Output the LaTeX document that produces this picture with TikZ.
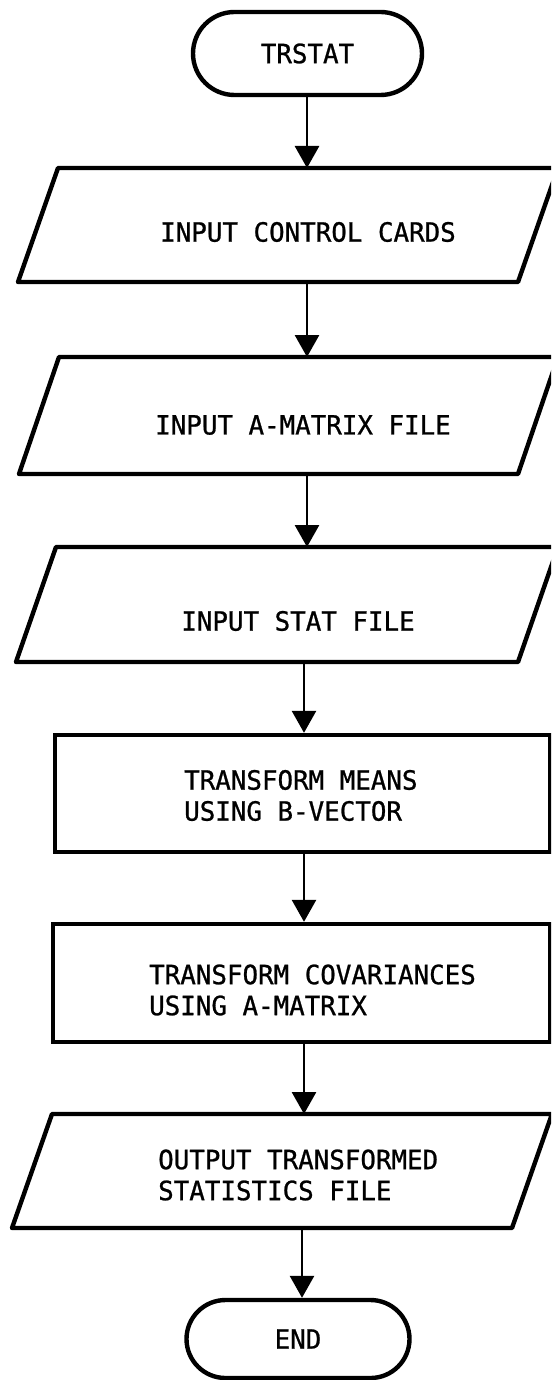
\documentclass[tikz,border=0pt]{standalone}
\usepackage{fontspec}
\newfontfamily\typefont[FakeStretch=0.975,FakeBold=0.9]{DejaVu Sans Mono}
\usetikzlibrary{arrows.meta,shapes.misc,calc}
\newcommand\drawpara[1]{\draw[shapeline] ($(#1.south west)+(-20,0)$) -- ($(#1.north west)+(20,0)$) -- ($(#1.north east)+(20,0)$) -- ($(#1.south east)+(-20,0)$) -- cycle;}
\begin{document}
\begin{tikzpicture}[x=1pt,y=-1pt,
  shapeline/.style={line width=4.4pt, line join=round},
  txt/.style={font=\typefont\fontsize{26.5}{31}\selectfont, inner sep=0pt, text=black},
  term/.style={rounded rectangle, draw, line width=4.4pt, inner sep=0pt, txt},
  frame/.style={draw=none, inner sep=0pt, outer sep=0pt},
  procbox/.style={draw, line width=4.4pt, inner sep=0pt},
  mtxt/.style={txt, align=left, anchor=west},
  arr/.style={line width=2.8pt, -{Triangle[length=22pt,width=24pt]}}
]
\useasboundingbox (0,0) rectangle (551,1380);
\clip (0,0) rectangle (551,1380);
\fill[white] (0,0) rectangle (551,1380);

% terminals
\node[term, minimum width=229pt, minimum height=83pt] (t1) at (307.5,53.5) {TRSTAT};
\node[term, minimum width=223pt, minimum height=78pt] (e1) at (298,1339) {END};

% input/output parallelograms
\node[frame, minimum width=500pt, minimum height=114pt] (p1) at (288,225) {};
\node[frame, minimum width=499pt, minimum height=117pt] (p2) at (288.5,415.5) {};
\node[frame, minimum width=502pt, minimum height=115pt] (p3) at (287,604.5) {};
\node[frame, minimum width=500pt, minimum height=114pt] (p4) at (282,1171) {};
\drawpara{p1}
\drawpara{p2}
\drawpara{p3}
\drawpara{p4}

% process boxes
\node[procbox, minimum width=495pt, minimum height=117pt] (r1) at (302.5,793.5) {};
\node[procbox, minimum width=497pt, minimum height=118pt] (r2) at (301.5,983) {};

% texts
\node[txt] (p1t) at (308,232) {INPUT CONTROL CARDS};
\node[txt] (p2t) at (303,425) {INPUT A-MATRIX FILE};
\node[txt] (p3t) at (298,621) {INPUT STAT FILE};
\node[mtxt] (r1t) at (184,795.5) {TRANSFORM MEANS\\USING B-VECTOR};
\node[mtxt] (r2t) at (149,990) {TRANSFORM COVARIANCES\\USING A-MATRIX};
\node[mtxt] (p4t) at (158,1175) {OUTPUT TRANSFORMED\\STATISTICS FILE};

% connectors
\coordinate (c1) at (307,0);
\coordinate (c2) at (304,0);
\coordinate (c3) at (302,0);
\draw[arr] (t1.south -| c1) -- (p1.north -| c1);
\draw[arr] (p1.south -| c1) -- (p2.north -| c1);
\draw[arr] (p2.south -| c1) -- (p3.north -| c1);
\draw[arr] (p3.south -| c2) -- (r1.north -| c2);
\draw[arr] (r1.south -| c2) -- (r2.north -| c2);
\draw[arr] (r2.south -| c2) -- (p4.north -| c2);
\draw[arr] (p4.south -| c3) -- (e1.north -| c3);
\end{tikzpicture}
\end{document}
